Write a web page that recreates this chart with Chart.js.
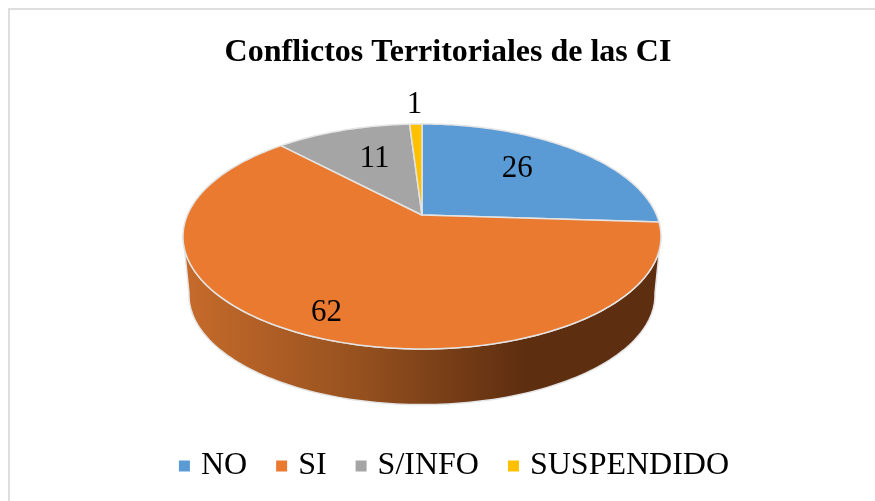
<!DOCTYPE html>
<html>
<head>
<meta charset="utf-8">
<style>
html,body{margin:0;padding:0;background:#fff;overflow:hidden}
#wrap{position:relative;width:875px;height:501px}
canvas{display:block}
</style>
<script src="https://cdn.jsdelivr.net/npm/chart.js@4/dist/chart.umd.min.js"></script>
</head>
<body>
<div id="wrap"><canvas id="c" width="875" height="501"></canvas></div>
<script>
const categories = ['NO', 'SI', 'S/INFO', 'SUSPENDIDO'];
const values = [26, 62, 11, 1];
const colors = ['#5B9BD5', '#E97A30', '#A5A5A5', '#FFC000'];
const titleText = 'Conflictos Territoriales de las CI';
const SERIF = '"Liberation Serif", "Times New Roman", serif';

// perspective view of the pie
const view = { cx: 422, cy: 215, radius: 234.6, squash: 0.462, k: 0.191,
  depth: 59, bottomScale: 0.975, edge: '#E4E4E4' };
const labelRadial = [0.6, 0.82, 0.56, 1.28];
const labelLift = [-5, 4, -5, 1];

function project(theta, r, top) {
  const s = top ? 1 : view.bottomScale;
  const u = r * Math.sin(theta), v = -r * Math.cos(theta);
  const w = 1 - view.k * v;
  return {
    x: view.cx + view.radius * s * u / w,
    y: view.cy + (top ? 0 : view.depth) + view.radius * view.squash * s * v / w
  };
}
const toTheta = a => a + Math.PI / 2;

const pie3d = {
  id: 'pie3d',
  afterLayout(chart) {
    chart.titleBlock.left += 10.5; chart.titleBlock.right += 10.5;
    chart.titleBlock.top += 3; chart.titleBlock.bottom += 3;
    chart.legend.left += 19; chart.legend.right += 19;
    chart.legend.top -= 9; chart.legend.bottom -= 9;
  },
  beforeDraw(chart) {
    const ctx = chart.ctx;
    ctx.save();
    ctx.fillStyle = '#fff';
    ctx.fillRect(0, 0, chart.width, chart.height);
    ctx.fillStyle = '#DEDEDE';
    ctx.fillRect(8, 8, chart.width - 8, 2);
    ctx.fillRect(8, 8, 2, chart.height - 8);
    ctx.restore();
  },
  beforeDatasetDraw(chart, args) {
    const ctx = chart.ctx, arcs = args.meta.data;
    ctx.save();
    // side wall: the front half of the rim
    const lo = 100 * Math.PI / 180, hi = 260 * Math.PI / 180;
    arcs.forEach(el => {
      const a = Math.max(toTheta(el.startAngle), lo), b = Math.min(toTheta(el.endAngle), hi);
      if (b <= a) return;
      const g = ctx.createLinearGradient(view.cx - 233, 0, view.cx + 233, 0);
      g.addColorStop(0, '#C56A2B');
      g.addColorStop(0.35, '#98521F');
      g.addColorStop(0.72, '#5E2E10');
      g.addColorStop(1, '#5E2E10');
      ctx.beginPath();
      const n = 120;
      for (let i = 0; i <= n; i++) {
        const p = project(a + (b - a) * i / n, 1, true);
        i ? ctx.lineTo(p.x, p.y) : ctx.moveTo(p.x, p.y);
      }
      for (let i = n; i >= 0; i--) {
        const p = project(a + (b - a) * i / n, 1, false);
        ctx.lineTo(p.x, p.y);
      }
      ctx.closePath();
      ctx.fillStyle = g;
      ctx.fill();
      ctx.lineWidth = 1.5;
      ctx.strokeStyle = view.edge;
      ctx.stroke();
    });
    // top face
    arcs.forEach(el => {
      const a = toTheta(el.startAngle), b = toTheta(el.endAngle);
      const n = Math.max(2, Math.ceil((b - a) * 60));
      ctx.beginPath();
      ctx.moveTo(view.cx, view.cy);
      for (let i = 0; i <= n; i++) {
        const p = project(a + (b - a) * i / n, 1, true);
        ctx.lineTo(p.x, p.y);
      }
      ctx.closePath();
      ctx.fillStyle = el.options.backgroundColor;
      ctx.fill();
      ctx.lineWidth = 1.5;
      ctx.lineJoin = 'round';
      ctx.strokeStyle = view.edge;
      ctx.stroke();
    });
    ctx.restore();
    return false;
  },
  afterDatasetsDraw(chart) {
    const ctx = chart.ctx, arcs = chart.getDatasetMeta(0).data;
    ctx.save();
    ctx.fillStyle = '#000';
    ctx.font = '31px ' + SERIF;
    ctx.textAlign = 'center';
    ctx.textBaseline = 'middle';
    arcs.forEach((el, i) => {
      const mid = toTheta((el.startAngle + el.endAngle) / 2);
      const p = project(mid, labelRadial[i], true);
      ctx.fillText(String(values[i]), p.x, p.y + labelLift[i]);
    });
    ctx.restore();
  }
};

new Chart(document.getElementById('c'), {
  type: 'pie',
  data: {
    labels: categories,
    datasets: [{ data: values, backgroundColor: colors, borderWidth: 0, radius: view.radius }]
  },
  options: {
    responsive: false,
    animation: false,
    layout: { padding: 0 },
    plugins: {
      tooltip: { enabled: false },
      title: {
        display: true,
        text: titleText,
        color: '#000',
        font: { family: SERIF, size: 32, weight: 'bold' },
        padding: { top: 31, bottom: 0 }
      },
      legend: {
        display: true,
        position: 'bottom',
        labels: {
          color: '#000',
          font: { family: SERIF, size: 32 },
          usePointStyle: true,
          pointStyle: 'rect',
          boxWidth: 1,
          boxHeight: 11,
          padding: 34
        }
      }
    }
  },
  plugins: [pie3d]
});
</script>
</body>
</html>
